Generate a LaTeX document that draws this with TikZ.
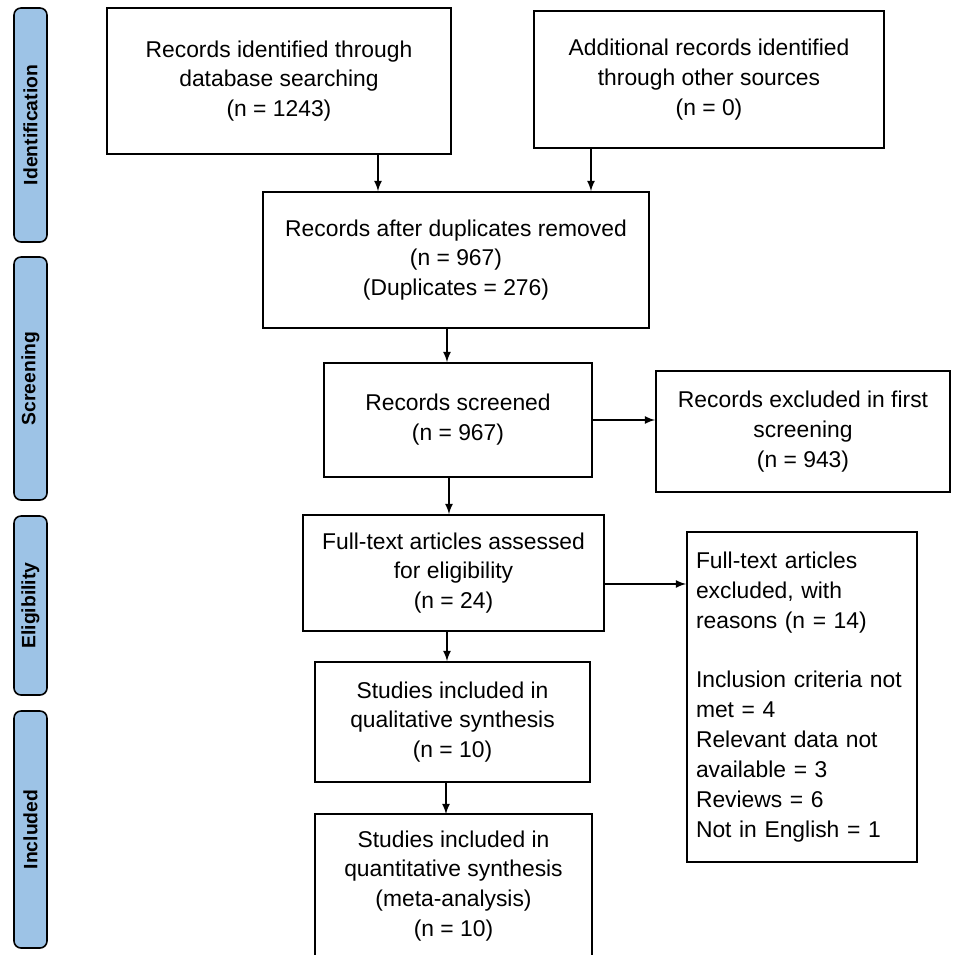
\documentclass[tikz,border=0pt]{standalone}
\usepackage{fontspec}
\setmainfont{Liberation Sans}
\usepackage{tikz}
\usepackage{xcolor}
\usetikzlibrary{positioning,shapes,arrows}
\definecolor{stageblue}{RGB}{157,195,230}
\begin{document}
\begin{tikzpicture}[scale=0.2]
\tikzstyle{every node}+=[inner sep=0pt]
\tikzstyle{box}=[draw, line width=1pt, align=center, font=\fontsize{13}{17}\selectfont]
\tikzstyle{stage}=[draw, line width=0.9pt, fill=stageblue, rounded corners=4pt, rotate=90, minimum height=0.66cm, font=\fontsize{11}{13}\selectfont\bfseries]
\tikzstyle{arr}=[line width=1pt, -latex]
\useasboundingbox (0,0) rectangle (95.3,-95.5);
\node [stage, minimum width=4.68cm] (s1) at (3.05,-12.5) {Identification};
\node [stage, minimum width=4.86cm] (s2) at (3.05,-37.85) {Screening};
\node [stage, minimum width=3.58cm] (s3) at (3.05,-60.55) {Eligibility};
\node [stage, minimum width=4.74cm] (s4) at (3.05,-82.95) {Included};
\node [box, minimum width=6.88cm, minimum height=2.92cm] (b1) at (27.9,-8.1) {Records identified through\\database searching\\(n = 1243)};
\node [box, minimum width=7.00cm, minimum height=2.74cm] (b2) at (70.9,-7.95) {Additional records identified\\through other sources\\(n = 0)};
\node [box, minimum width=7.72cm, minimum height=2.72cm] (b3) at (45.6,-26.0) {Records after duplicates removed\\(n = 967)\\(Duplicates = 276)};
\node [box, minimum width=5.36cm, minimum height=2.28cm] (b4) at (45.8,-42.0) {Records screened\\(n = 967)};
\node [box, minimum width=5.88cm, minimum height=2.42cm] (b5) at (80.3,-43.15) {Records excluded in first\\screening\\(n = 943)};
\node [box, minimum width=6.02cm, minimum height=2.32cm] (b6) at (45.35,-57.3) {Full-text articles assessed\\for eligibility\\(n = 24)};
\node [box, minimum width=5.50cm, minimum height=2.40cm] (b7) at (45.25,-72.2) {Studies included in\\qualitative synthesis\\(n = 10)};
\node [box, draw=none, minimum width=5.50cm, minimum height=2.84cm] (b8) at (45.35,-88.6) {Studies included in\\quantitative synthesis\\(meta-analysis)\\(n = 10)};
\draw [line width=1pt] (b8.south west) -- (b8.north west) -- (b8.north east) -- (b8.south east);
\node [box, minimum width=4.60cm, minimum height=6.60cm, text width=4.24cm, align=left] (b9) at (80.2,-69.7) {Full-text articles\\excluded, with\\reasons (n = 14)\\[17pt]Inclusion criteria not\\met = 4\\Relevant data not\\available = 3\\Reviews = 6\\Not in English = 1};
\coordinate (e1) at ([xshift=9.9cm]b1.south);
\coordinate (e2) at ([xshift=-11.8cm]b2.south);
\coordinate (e3) at ([xshift=-0.9cm]b3.south);
\coordinate (e4) at ([xshift=-0.9cm]b4.south);
\coordinate (e6) at ([yshift=-1.1cm]b6.east);
\coordinate (e7) at ([xshift=-0.65cm]b6.south);
\coordinate (e8) at ([xshift=-0.65cm]b7.south);
\draw [arr] (e1) -- (e1 |- b3.north);
\draw [arr] (e2) -- (e2 |- b3.north);
\draw [arr] (e3) -- (e3 |- b4.north);
\draw [arr] (b4.east) -- (b4.east -| b5.west);
\draw [arr] (e4) -- (e4 |- b6.north);
\draw [arr] (e6) -- (e6 -| b9.west);
\draw [arr] (e7) -- (e7 |- b7.north);
\draw [arr] (e8) -- (e8 |- b8.north);
\end{tikzpicture}
\end{document}
